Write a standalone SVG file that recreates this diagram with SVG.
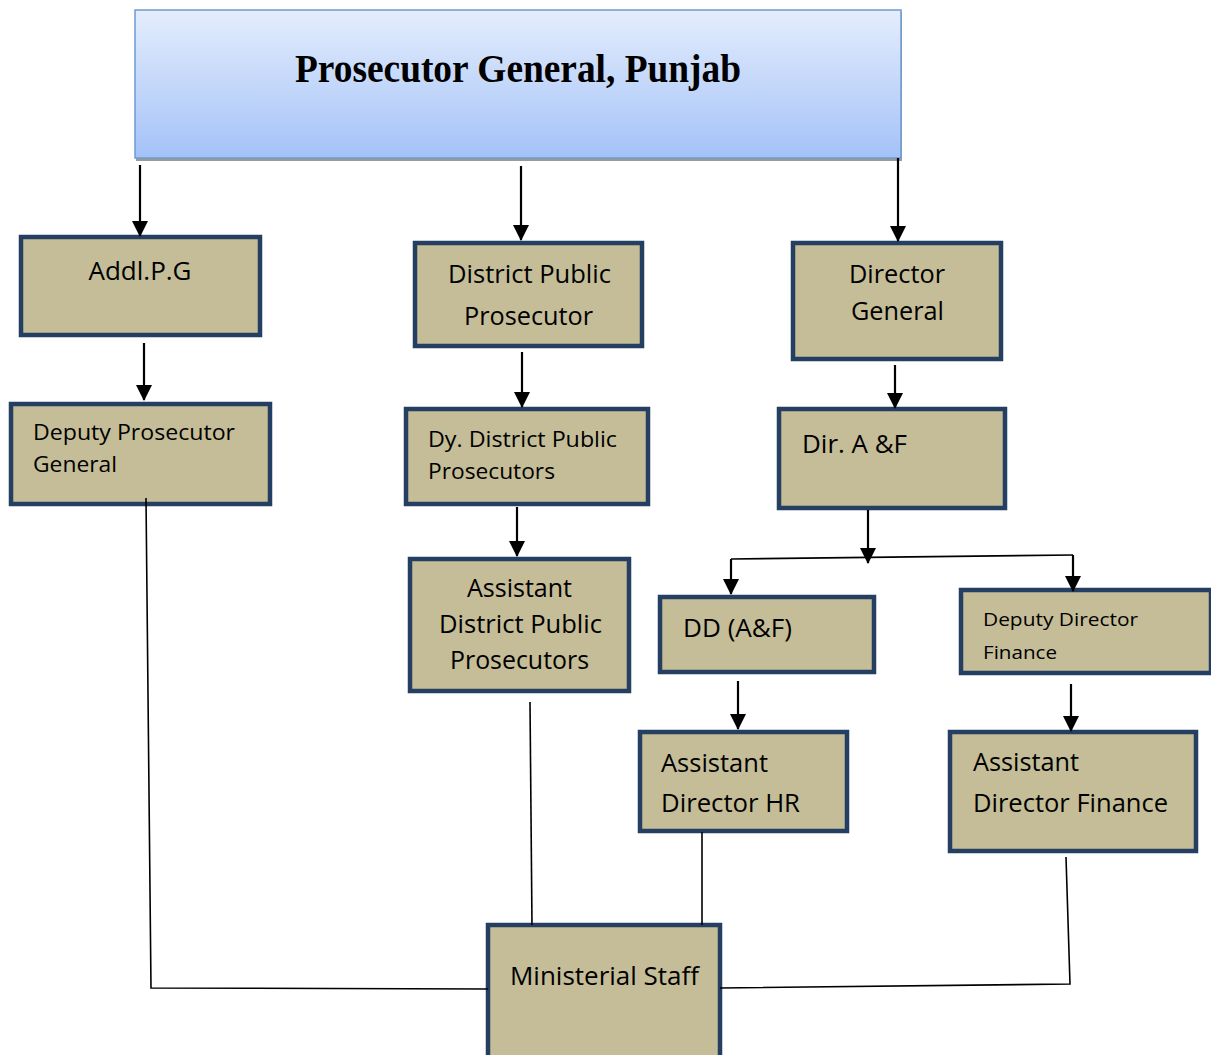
<svg xmlns="http://www.w3.org/2000/svg" width="1211" height="1055" viewBox="0 0 1211 1055">
<style>
.box{fill:#c4bd97;stroke:#243f62;stroke-width:4.5}
.t{font-family:"Open Sans","Liberation Sans",sans-serif;font-size:25px;fill:#000}
.s{font-size:21.5px}
.xs{font-size:19px}
.arr{stroke:#000;stroke-width:2.2;fill:none;marker-end:url(#ah)}
.ln{stroke:#000;stroke-width:1.6;fill:none}
</style>
<defs>
<linearGradient id="g" x1="0" y1="0" x2="0" y2="1">
<stop offset="0" stop-color="#e4edfc"/>
<stop offset="1" stop-color="#a4c2f8"/>
</linearGradient>
<marker id="ah" markerUnits="userSpaceOnUse" markerWidth="16" markerHeight="16" viewBox="0 0 16 16" refX="15" refY="8" orient="auto">
<path d="M0,0 L16,8 L0,16 z" fill="#000"/>
</marker>
</defs>
<rect width="1211" height="1055" fill="#fff"/>

<g id="pg">
<rect x="136" y="12" width="766" height="149" fill="#9a9a9a"/>
<rect x="135" y="10" width="766" height="148" fill="url(#g)" stroke="#6f9bd1" stroke-width="1.5"/>
<text x="518" y="82" text-anchor="middle" font-family="'Liberation Serif',serif" font-weight="bold" font-size="40" textLength="446" lengthAdjust="spacingAndGlyphs">Prosecutor General, Punjab</text>
</g>

<g id="addl">
<rect class="box" x="21" y="237" width="239" height="98"/>
<text class="t" x="140" y="280" text-anchor="middle" textLength="103" lengthAdjust="spacingAndGlyphs">Addl.P.G</text>
</g>
<g id="dpg">
<rect class="box" x="11" y="404" width="259" height="100"/>
<text class="t s" x="33" y="440" textLength="202" lengthAdjust="spacingAndGlyphs">Deputy Prosecutor</text>
<text class="t s" x="33" y="472" textLength="84" lengthAdjust="spacingAndGlyphs">General</text>
</g>
<g id="dpp">
<rect class="box" x="415" y="243" width="227" height="103"/>
<text class="t" x="448" y="283" textLength="163" lengthAdjust="spacingAndGlyphs">District Public</text>
<text class="t" x="464" y="325" textLength="129" lengthAdjust="spacingAndGlyphs">Prosecutor</text>
</g>
<g id="dydpp">
<rect class="box" x="406" y="409" width="242" height="95"/>
<text class="t s" x="428" y="447" textLength="189" lengthAdjust="spacingAndGlyphs">Dy. District Public</text>
<text class="t s" x="428" y="479" textLength="127" lengthAdjust="spacingAndGlyphs">Prosecutors</text>
</g>
<g id="adpp">
<rect class="box" x="410" y="559" width="219" height="132"/>
<text class="t" x="467" y="597" textLength="105" lengthAdjust="spacingAndGlyphs">Assistant</text>
<text class="t" x="439" y="633" textLength="163" lengthAdjust="spacingAndGlyphs">District Public</text>
<text class="t" x="450" y="669" textLength="139" lengthAdjust="spacingAndGlyphs">Prosecutors</text>
</g>
<g id="dg">
<rect class="box" x="793" y="243" width="208" height="116"/>
<text class="t" x="849" y="283" textLength="96" lengthAdjust="spacingAndGlyphs">Director</text>
<text class="t" x="851" y="320" textLength="93" lengthAdjust="spacingAndGlyphs">General</text>
</g>
<g id="diraf">
<rect class="box" x="779" y="409" width="226" height="99"/>
<text class="t" x="802" y="453" textLength="105" lengthAdjust="spacingAndGlyphs">Dir. A &amp;F</text>
</g>
<g id="ddaf">
<rect class="box" x="660" y="597" width="214" height="75"/>
<text class="t" x="683" y="637" textLength="109" lengthAdjust="spacingAndGlyphs">DD (A&amp;F)</text>
</g>
<g id="ddf">
<rect class="box" x="961" y="590" width="250" height="83"/>
<text class="t xs" x="983" y="626" textLength="155" lengthAdjust="spacingAndGlyphs">Deputy Director</text>
<text class="t xs" x="983" y="659" textLength="74" lengthAdjust="spacingAndGlyphs">Finance</text>
</g>
<g id="adhr">
<rect class="box" x="640" y="732" width="207" height="99"/>
<text class="t" x="661" y="772" textLength="107" lengthAdjust="spacingAndGlyphs">Assistant</text>
<text class="t" x="661" y="812" textLength="139" lengthAdjust="spacingAndGlyphs">Director HR</text>
</g>
<g id="adf">
<rect class="box" x="950" y="732" width="246" height="119"/>
<text class="t" x="973" y="771" textLength="106" lengthAdjust="spacingAndGlyphs">Assistant</text>
<text class="t" x="973" y="812" textLength="195" lengthAdjust="spacingAndGlyphs">Director Finance</text>
</g>
<g id="ms">
<rect class="box" x="488" y="925" width="232" height="140"/>
<text class="t" x="510" y="985" textLength="189" lengthAdjust="spacingAndGlyphs">Ministerial Staff</text>
</g>

<g id="connectors">
<line class="arr" x1="140" y1="165" x2="140" y2="236"/>
<line class="arr" x1="521" y1="166" x2="521" y2="240"/>
<line class="arr" x1="898" y1="158" x2="898" y2="241"/>
<line class="arr" x1="144" y1="343" x2="144" y2="400"/>
<line class="arr" x1="522" y1="352" x2="522" y2="407"/>
<line class="arr" x1="517" y1="507" x2="517" y2="556"/>
<line class="arr" x1="895" y1="365" x2="895" y2="408"/>
<line class="arr" x1="868" y1="510" x2="868" y2="563"/>
<line class="ln" x1="731" y1="559" x2="1073" y2="555"/>
<line class="arr" x1="731" y1="559" x2="731" y2="594"/>
<line class="arr" x1="1073" y1="555" x2="1073" y2="591"/>
<line class="arr" x1="738" y1="681" x2="738" y2="729"/>
<line class="arr" x1="1071" y1="684" x2="1071" y2="731"/>
<polyline class="ln" points="146,498 151,988 488,989"/>
<line class="ln" x1="530" y1="702" x2="532" y2="925"/>
<line class="ln" x1="702" y1="832" x2="702" y2="925"/>
<polyline class="ln" points="1066,857 1070,984 720,988"/>
</g>
</svg>
